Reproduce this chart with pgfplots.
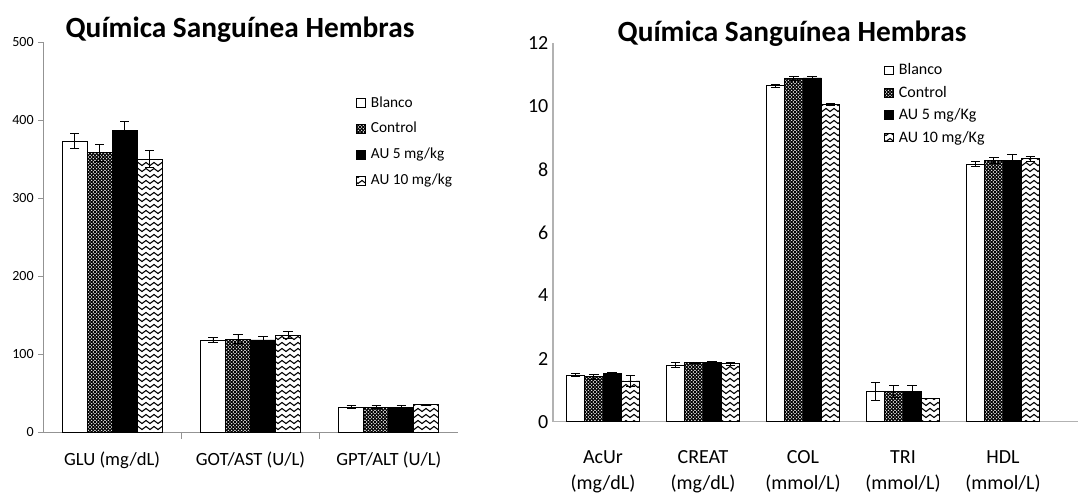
\documentclass[border=0pt]{standalone}
\usepackage{fontspec}
\setmainfont{Carlito}
\usepackage{pgfplots}
\pgfplotsset{compat=1.18}
\usetikzlibrary{patterns,patterns.meta}

% relleno de "Control": rejilla diagonal densa
\tikzdeclarepattern{
  name=ctrlhatch,
  type=uncolored,
  bounding box={(-0.5pt,-0.5pt) and (3pt,3pt)},
  tile size={(2.5pt,2.5pt)},
  code={\draw[line width=0.75pt] (0pt,0pt) -- (2.5pt,2.5pt) (0pt,2.5pt) -- (2.5pt,0pt);}
}
% relleno de "AU 10": ondas
\tikzdeclarepattern{
  name=waves,
  type=uncolored,
  bounding box={(-0.5pt,-0.5pt) and (6.5pt,5pt)},
  tile size={(6pt,4.5pt)},
  code={\draw[line width=0.8pt] (0pt,2.25pt) sin (1.5pt,3.4pt) cos (3pt,2.25pt) sin (4.5pt,1.1pt) cos (6pt,2.25pt);}
}

\pgfplotsset{
  sq/.style={legend image code/.code={\draw[##1,draw=black,line width=0.5pt] (0pt,-3.2pt) rectangle (6.4pt,3.2pt);}},
  blanco/.style={fill=white,draw=black,line width=0.6pt,sq},
  control/.style={pattern=ctrlhatch,pattern color=black,draw=black,line width=0.6pt,sq},
  au5/.style={fill=black,draw=black,line width=0.6pt,sq},
  au10/.style={pattern=waves,pattern color=black,draw=black,line width=0.6pt,sq},
  eb/.style={error bars/.cd, y dir=both, y explicit,
    error bar style={black,line width=0.6pt},
    error mark options={rotate=90,mark size=3.5pt,black,line width=0.6pt}},
}

\begin{document}
\begin{tikzpicture}
\useasboundingbox (0,0) rectangle (808.5pt,372.75pt);

\node[anchor=base,font=\fontsize{22}{24}\selectfont\bfseries] at (180pt,344.25pt) {Química Sanguínea Hembras};
\node[anchor=base,font=\fontsize{22}{24}\selectfont\bfseries] at (594pt,341.25pt) {Química Sanguínea Hembras};

\begin{axis}[
  at={(32.25pt,48.75pt)}, anchor=south west,
  scale only axis, width=311.25pt, height=292.5pt,
  ybar=0pt, bar width=18.75pt,
  xmin=-0.5, xmax=2.5, ymin=0, ymax=500,
  axis x line*=bottom, axis y line*=left,
  axis line style={gray!85,line width=0.6pt},
  xtick={0,1,2},
  xticklabels={GLU (mg/dL), GOT/AST (U/L), GPT/ALT (U/L)},
  major x tick style={draw=none},
  minor xtick={0.5,1.5},
  minor tick length=5pt,
  minor x tick style={gray!85,line width=0.6pt},
  xticklabel style={font=\fontsize{14}{16}\selectfont, yshift=-8pt},
  ytick={0,100,200,300,400,500},
  ytick style={gray!85,line width=0.6pt},
  major tick length=3.5pt,
  tick align=outside,
  yticklabel style={font=\fontsize{10.5}{12}\selectfont},
  /pgf/number format/assume math mode=true,
  legend style={at={(0.745,0.875)}, anchor=north west, draw=none, fill=none,
    font=\fontsize{11.5}{13}\selectfont, row sep=6pt,
    cells={anchor=west},
    /tikz/every odd column/.append style={column sep=2pt}},
]
\addplot[blanco,eb] coordinates {(0,373) +- (0,10) (1,118) +- (0,3) (2,32) +- (0,1.5)};
\addlegendentry{Blanco}
\addplot[control,eb] coordinates {(0,358) +- (0,10.5) (1,119) +- (0,5.5) (2,32) +- (0,1.5)};
\addlegendentry{Control}
\addplot[au5,eb] coordinates {(0,387) +- (0,11.5) (1,118) +- (0,5) (2,32) +- (0,1.5)};
\addlegendentry{AU 5 mg/kg}
\addplot[au10,eb] coordinates {(0,350) +- (0,10.5) (1,124) +- (0,4.5) (2,35) +- (0,0.5)};
\addlegendentry{AU 10 mg/kg}
\end{axis}

\begin{axis}[
  at={(414.75pt,56.5pt)}, anchor=south west,
  scale only axis, width=393.75pt, height=283.8pt,
  ybar=0pt, bar width=13.7pt,
  xmin=-0.5, xmax=4.75, ymin=0, ymax=12,
  axis x line*=bottom, axis y line*=left,
  axis line style={gray!60,line width=0.8pt},
  xtick={0,1,2,3,4},
  xticklabels={{AcUr\\(mg/dL)},{CREAT\\(mg/dL)},{COL\\(mmol/L)},{TRI\\(mmol/L)},{HDL\\(mmol/L)}},
  xtick style={draw=none},
  xticklabel style={font=\fontsize{15}{19.5}\selectfont, align=center, yshift=-14pt},
  ytick={0,2,4,6,8,10,12},
  ytick style={draw=none},
  yticklabel style={font=\fontsize{15}{17}\selectfont},
  /pgf/number format/assume math mode=true,
  legend style={at={(0.623,0.961)}, anchor=north west, draw=none, fill=none,
    font=\fontsize{12}{14}\selectfont, row sep=3pt,
    cells={anchor=west},
    /tikz/every odd column/.append style={column sep=2pt}},
]
\addplot[blanco,eb] coordinates {(0,1.48) +- (0,0.05) (1,1.80) +- (0,0.07) (2,10.65) +- (0,0.06) (3,0.96) +- (0,0.28) (4,8.16) +- (0,0.08)};
\addlegendentry{Blanco}
\addplot[control,eb] coordinates {(0,1.43) +- (0,0.08) (1,1.87) +- (0,0.02) (2,10.88) +- (0,0.06) (3,0.96) +- (0,0.19) (4,8.29) +- (0,0.1)};
\addlegendentry{Control}
\addplot[au5,eb] coordinates {(0,1.54) +- (0,0.03) (1,1.88) +- (0,0.02) (2,10.90) +- (0,0.04) (3,0.96) +- (0,0.19) (4,8.29) +- (0,0.2)};
\addlegendentry{AU 5 mg/Kg}
\addplot[au10,eb] coordinates {(0,1.29) +- (0,0.18) (1,1.84) +- (0,0.04) (2,10.07) +- (0,0.03) (3,0.74) +- (0,0) (4,8.34) +- (0,0.08)};
\addlegendentry{AU 10 mg/Kg}
\end{axis}
\end{tikzpicture}
\end{document}
